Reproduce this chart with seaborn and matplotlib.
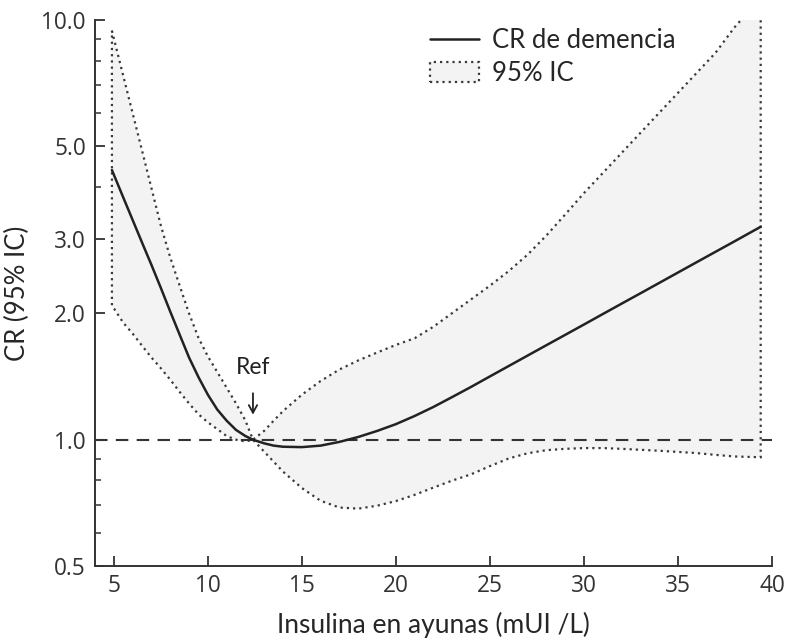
import numpy as np
import pandas as pd
import matplotlib
matplotlib.use("Agg")
import matplotlib.pyplot as plt
import matplotlib.ticker as mticker
import seaborn as sns

# insulin values (mUI/L)
insulin = [4.9, 5.5, 6.0, 6.5, 7.0, 7.5, 8.0, 8.5, 9.0, 9.5, 10.0, 10.5, 11.0, 11.5,
           12.0, 12.4, 13.0, 13.5, 14.0, 15, 16, 17, 18, 19, 20, 21, 22, 23, 24, 25,
           26, 27, 28, 29, 30, 31, 32, 33, 34, 35, 36, 37, 38, 39.4]

# hazard ratio for dementia
hr = [4.39, 3.78, 3.34, 2.95, 2.61, 2.30, 2.02, 1.78, 1.57, 1.41, 1.28, 1.18, 1.11, 1.055,
      1.02, 1.00, 0.98, 0.968, 0.962, 0.960, 0.968, 0.988, 1.015, 1.049, 1.089, 1.139,
      1.197, 1.264, 1.336, 1.415, 1.498, 1.586, 1.679, 1.777, 1.881, 1.992, 2.109, 2.232,
      2.363, 2.502, 2.649, 2.804, 2.968, 3.216]

# 95% CI bounds
ci_hi = [9.43, 7.37, 6.00, 4.89, 3.98, 3.24, 2.72, 2.33, 2.00, 1.75, 1.58, 1.45, 1.33, 1.22,
         1.11, 1.00, 1.05, 1.11, 1.17, 1.28, 1.38, 1.47, 1.545, 1.613, 1.682, 1.745, 1.859,
         2.004, 2.160, 2.328, 2.522, 2.759, 3.065, 3.439, 3.869, 4.318, 4.821, 5.382,
         6.008, 6.706, 7.486, 8.357, 9.60, 11.3]
ci_lo = [2.09, 1.90, 1.79, 1.675, 1.57, 1.48, 1.39, 1.30, 1.22, 1.15, 1.10, 1.06, 1.02, 1.00,
         0.99, 1.00, 0.936, 0.886, 0.839, 0.767, 0.715, 0.689, 0.685, 0.696, 0.714, 0.739,
         0.769, 0.799, 0.827, 0.865, 0.902, 0.928, 0.944, 0.951, 0.955, 0.955, 0.951,
         0.946, 0.941, 0.935, 0.929, 0.920, 0.912, 0.908]

ref_x = 12.4
x_ticks = [5, 10, 15, 20, 25, 30, 35, 40]
y_ticks = [0.5, 1.0, 2.0, 3.0, 5.0, 10.0]
y_tick_labels = ["0.5", "1.0", "2.0", "3.0", "5.0", "10.0"]
y_minor = [0.6, 0.7, 0.8, 0.9, 4, 6, 7, 8, 9]

df = pd.DataFrame({"insulina": insulin, "hr": hr, "lo": ci_lo, "hi": ci_hi})

sns.set_style("ticks")
plt.rcParams["font.family"] = ["Lato", "DejaVu Sans"]

fig = plt.figure(figsize=(7.93, 6.44), dpi=100)
ax = fig.add_axes([0.1198, 0.1211, 0.9735 - 0.1198, 0.9689 - 0.1211])

# CI band as a closed polygon with dotted edge
poly_x = np.concatenate([df["insulina"], df["insulina"][::-1]])
poly_y = np.concatenate([df["hi"], df["lo"][::-1]])
ax.fill(poly_x, poly_y, facecolor="#f3f3f3", edgecolor="#3a3a3a",
        linestyle=(0, (1, 1.8)), linewidth=1.6, label="95% IC", zorder=1)

ax.axhline(1.0, color="#333333", lw=1.5, dashes=(6, 4), zorder=2)

sns.lineplot(data=df, x="insulina", y="hr", ax=ax, color="#222222", lw=1.8,
             label="CR de demencia", zorder=3)

ax.set_yscale("log")
ax.set_xlim(4, 40)
ax.set_ylim(0.5, 10)
ax.set_yticks(y_ticks)
ax.set_yticklabels(y_tick_labels)
ax.yaxis.set_minor_locator(mticker.FixedLocator(y_minor))
ax.yaxis.set_minor_formatter(mticker.NullFormatter())
ax.set_xticks(x_ticks)

for lab in ax.get_xticklabels() + ax.get_yticklabels():
    lab.set_fontfamily(["Open Sans", "DejaVu Sans"])
    lab.set_fontsize(16.3)
    lab.set_color("#333333")

ax.tick_params(which="major", direction="in", length=7, width=1.3, color="#333333")
ax.tick_params(axis="y", which="major", pad=6.5)
ax.tick_params(axis="x", which="major", pad=6)
ax.tick_params(which="minor", direction="in", length=4, width=1.1, color="#333333")
for s in ["left", "bottom"]:
    ax.spines[s].set_linewidth(1.4)
    ax.spines[s].set_color("#333333")
sns.despine(ax=ax)

ax.set_xlabel("Insulina en ayunas (mUI /L)", fontsize=19, labelpad=10)
ax.set_ylabel("CR (95% IC)", fontsize=18.5, labelpad=8)

# reference marker
ax.annotate("", xy=(ref_x, 1.13), xytext=(ref_x, 1.31),
            arrowprops=dict(arrowstyle="->, head_length=0.55, head_width=0.3",
                            lw=1.3, color="#222222"))
ax.text(ref_x, 1.40, "Ref", ha="center", va="bottom", fontsize=16.5, color="#222222")

handles, labels = ax.get_legend_handles_labels()
order = [labels.index("CR de demencia"), labels.index("95% IC")]
ax.legend([handles[i] for i in order], [labels[i] for i in order],
          loc="upper left", bbox_to_anchor=(0.461, 1.027), frameon=False,
          fontsize=18.5, handlelength=1.9, handleheight=0.85, labelspacing=0.3,
          handletextpad=0.5)

fig.savefig("out.png", dpi=100)
